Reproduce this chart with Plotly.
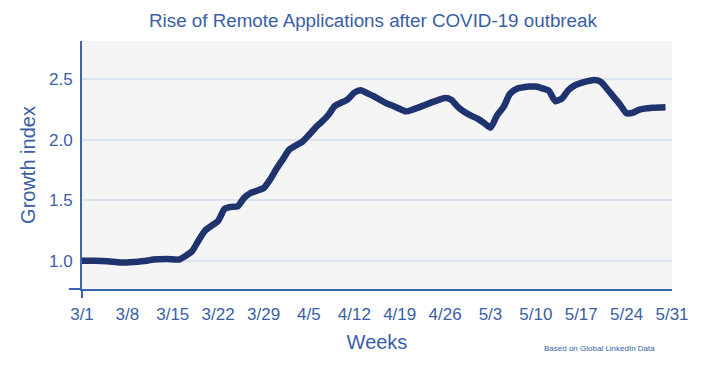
import plotly.graph_objects as go

dates = ["2020-03-01", "2020-03-03", "2020-03-05", "2020-03-07", "2020-03-09", "2020-03-11",
         "2020-03-12", "2020-03-14", "2020-03-16", "2020-03-17", "2020-03-18", "2020-03-19",
         "2020-03-20", "2020-03-21", "2020-03-22", "2020-03-23", "2020-03-24", "2020-03-25",
         "2020-03-26", "2020-03-27", "2020-03-29", "2020-03-30", "2020-03-31", "2020-04-01",
         "2020-04-02", "2020-04-04", "2020-04-05", "2020-04-06", "2020-04-07", "2020-04-08",
         "2020-04-09", "2020-04-11", "2020-04-12", "2020-04-13", "2020-04-14", "2020-04-15",
         "2020-04-16", "2020-04-17", "2020-04-18", "2020-04-20", "2020-04-21", "2020-04-23",
         "2020-04-25", "2020-04-26", "2020-04-27", "2020-04-28", "2020-04-29", "2020-04-30",
         "2020-05-01", "2020-05-02", "2020-05-03", "2020-05-04", "2020-05-05", "2020-05-06",
         "2020-05-07", "2020-05-09", "2020-05-10", "2020-05-11", "2020-05-12", "2020-05-13",
         "2020-05-14", "2020-05-15", "2020-05-16", "2020-05-17", "2020-05-19", "2020-05-20",
         "2020-05-21", "2020-05-22", "2020-05-23", "2020-05-24", "2020-05-25", "2020-05-26",
         "2020-05-28", "2020-05-30"]
growth_index = [1.00, 1.00, 0.995, 0.985, 0.99, 1.00,
                1.01, 1.015, 1.01, 1.04, 1.08, 1.17,
                1.25, 1.29, 1.33, 1.43, 1.445, 1.45,
                1.52, 1.56, 1.60, 1.67, 1.76, 1.84,
                1.92, 1.985, 2.04, 2.10, 2.15, 2.205,
                2.28, 2.335, 2.39, 2.41, 2.385, 2.36,
                2.33, 2.30, 2.28, 2.235, 2.25, 2.29,
                2.33, 2.345, 2.33, 2.27, 2.23, 2.20,
                2.175, 2.14, 2.10, 2.20, 2.27, 2.38,
                2.42, 2.44, 2.44, 2.425, 2.405, 2.32,
                2.34, 2.41, 2.45, 2.47, 2.495, 2.48,
                2.42, 2.355, 2.29, 2.22, 2.225, 2.25,
                2.265, 2.27]

tick_dates = ["2020-03-01", "2020-03-08", "2020-03-15", "2020-03-22", "2020-03-29", "2020-04-05",
              "2020-04-12", "2020-04-19", "2020-04-26", "2020-05-03", "2020-05-10", "2020-05-17",
              "2020-05-24", "2020-05-31"]
tick_labels = ["3/1", "3/8", "3/15", "3/22", "3/29", "4/5", "4/12", "4/19", "4/26", "5/3",
               "5/10", "5/17", "5/24", "5/31"]
y_ticks = [1.0, 1.5, 2.0, 2.5]
y_tick_labels = ["1.0", "1.5", "2.0", "2.5"]

TEXT = "#3a5ea6"
AXIS = "#3b66ad"
LINE = "#1f336e"
FONT = "Liberation Sans, Arial, sans-serif"

fig = go.Figure()
fig.add_trace(go.Scatter(x=dates, y=growth_index, mode="lines",
                         line=dict(color=LINE, width=6.5, shape="spline", smoothing=0.6),
                         hoverinfo="skip", showlegend=False))

fig.update_layout(
    width=720, height=377,
    margin=dict(l=82, r=48, t=41, b=88),
    paper_bgcolor="white",
    plot_bgcolor="#f5f5f5",
    font=dict(family=FONT, color=TEXT),
    title=dict(text="Rise of Remote Applications after COVID-19 outbreak",
               x=0.518, xanchor="center", y=0.947, yanchor="middle",
               font=dict(size=18.8, color=TEXT, family=FONT)),
    xaxis=dict(type="date", range=["2020-03-01", "2020-05-31"],
               tickvals=tick_dates, ticktext=tick_labels,
               tickfont=dict(size=17, color=TEXT), showgrid=False, zeroline=False,
               showline=True, linecolor=AXIS, linewidth=2, ticks="", ticklabelstandoff=9,
               title=dict(text="Weeks", font=dict(size=20, color=TEXT), standoff=12)),
    yaxis=dict(range=[0.766, 2.817], tickvals=y_ticks, ticktext=y_tick_labels,
               tickfont=dict(size=17, color=TEXT), showgrid=True, gridcolor="#dbe3ee", gridwidth=2,
               zeroline=False, showline=True, linecolor=AXIS, linewidth=2, ticks="",
               ticklabelstandoff=4,
               title=dict(text="Growth index", font=dict(size=20, color=TEXT), standoff=8)),
)

# axis-line extensions beyond the crossing point
fig.add_shape(type="line", xref="paper", yref="paper", x0=-13/590, x1=0, y0=0, y1=0,
              line=dict(color=AXIS, width=2))
fig.add_shape(type="line", xref="paper", yref="paper", x0=0, x1=0, y0=-9/248, y1=0,
              line=dict(color=AXIS, width=2))

fig.add_annotation(text="Based on Global LinkedIn Data", xref="paper", yref="paper",
                   x=0.877, y=-0.238, xanchor="center", yanchor="middle", showarrow=False,
                   font=dict(size=8, color=TEXT, family=FONT))

fig.write_html("out.html", config={"displayModeBar": False},
               post_script="document.body.style.margin='0';")
